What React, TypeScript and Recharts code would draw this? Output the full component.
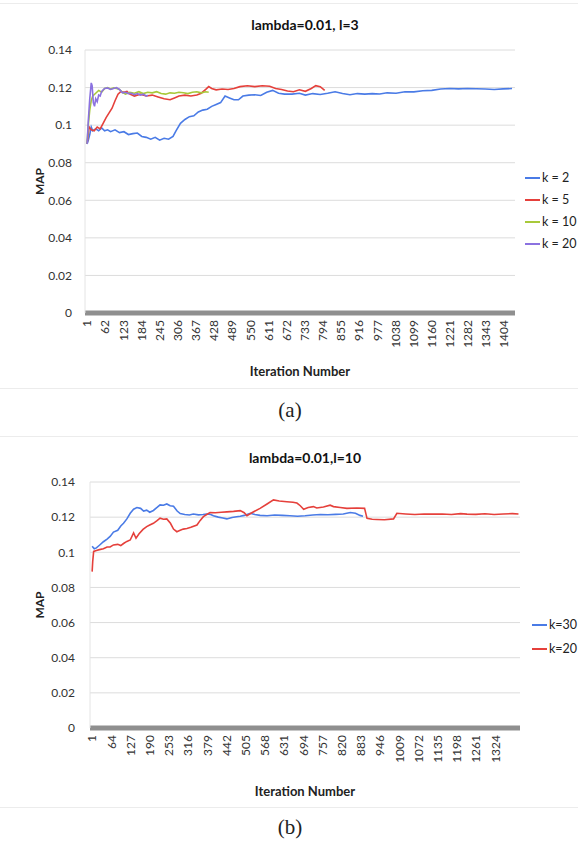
import { LineChart, Line, XAxis, YAxis, CartesianGrid, Label } from 'recharts';

const FONT = 'Lato, "Open Sans", sans-serif';

const yTicks = [0, 0.02, 0.04, 0.06, 0.08, 0.1, 0.12, 0.14];
const topTicks = [1, 62, 123, 184, 245, 306, 367, 428, 489, 550, 611, 672, 733, 794, 855, 916, 977, 1038, 1099, 1160, 1221, 1282, 1343, 1404];
const bottomTicks = [1, 64, 127, 190, 253, 316, 379, 442, 505, 568, 631, 694, 757, 820, 883, 946, 1009, 1072, 1135, 1198, 1261, 1324];

// (a) lambda=0.01, l=3
const k2Iter = [1, 5, 10, 15, 20, 30, 40, 50, 60, 70, 80, 95, 110, 125, 140, 155, 170, 185, 200, 215, 230, 245, 260, 275, 290, 300, 315, 330, 345, 360, 375, 390, 405, 420, 435, 450, 465, 480, 495, 510, 525, 545, 565, 585, 605, 625, 645, 665, 690, 715, 735, 760, 785, 810, 835, 860, 885, 910, 935, 960, 985, 1010, 1040, 1070, 1100, 1130, 1160, 1190, 1220, 1250, 1280, 1310, 1340, 1370, 1400, 1430];
const k2Map = [0.09, 0.092, 0.095, 0.099, 0.097, 0.098, 0.097, 0.0985, 0.097, 0.0975, 0.0965, 0.0975, 0.096, 0.0965, 0.095, 0.0955, 0.0958, 0.094, 0.0935, 0.0925, 0.0935, 0.092, 0.093, 0.0925, 0.094, 0.097, 0.101, 0.103, 0.1045, 0.105, 0.107, 0.108, 0.1085, 0.11, 0.111, 0.112, 0.1155, 0.1145, 0.1135, 0.1135, 0.1155, 0.116, 0.1162, 0.1158, 0.1175, 0.1185, 0.117, 0.1165, 0.1165, 0.117, 0.116, 0.1168, 0.1163, 0.117, 0.1178, 0.1168, 0.1162, 0.1168, 0.1165, 0.1168, 0.1166, 0.1172, 0.117, 0.1178, 0.1177, 0.1183, 0.1185, 0.1192, 0.1195, 0.1193, 0.1195, 0.1194, 0.1192, 0.119, 0.1193, 0.1195];

const k5Iter = [1, 4, 8, 15, 25, 35, 45, 55, 65, 75, 85, 95, 105, 115, 125, 135, 145, 160, 180, 200, 220, 240, 260, 280, 295, 310, 330, 350, 370, 385, 400, 410, 420, 435, 455, 475, 495, 515, 540, 565, 590, 615, 635, 655, 675, 695, 715, 735, 755, 770, 785, 800];
const k5Map = [0.09, 0.094, 0.099, 0.0975, 0.097, 0.099, 0.098, 0.101, 0.104, 0.1065, 0.109, 0.113, 0.1165, 0.118, 0.1175, 0.118, 0.1165, 0.1155, 0.1165, 0.1155, 0.116, 0.115, 0.114, 0.1135, 0.1145, 0.1155, 0.116, 0.1155, 0.116, 0.117, 0.119, 0.1205, 0.1195, 0.1188, 0.1192, 0.119, 0.1195, 0.1205, 0.121, 0.1205, 0.121, 0.1207, 0.1195, 0.119, 0.1182, 0.1178, 0.1188, 0.118, 0.1195, 0.121, 0.1205, 0.1185];

const k10Iter = [1, 5, 10, 15, 20, 30, 40, 50, 60, 70, 80, 90, 100, 110, 120, 130, 145, 160, 175, 190, 205, 220, 235, 250, 265, 280, 295, 310, 325, 340, 355, 370, 385, 400, 410];
const k10Map = [0.09, 0.1, 0.108, 0.113, 0.1155, 0.117, 0.1185, 0.1175, 0.1195, 0.12, 0.1192, 0.1198, 0.1195, 0.119, 0.1175, 0.1165, 0.1175, 0.117, 0.1178, 0.1168, 0.1175, 0.1172, 0.1178, 0.1168, 0.1165, 0.1172, 0.117, 0.1175, 0.1172, 0.1168, 0.1175, 0.1178, 0.1172, 0.1178, 0.1175];

const k20Iter = [1, 5, 10, 15, 18, 22, 26, 30, 35, 40, 45, 50, 60, 70, 80, 90, 100, 110, 120, 130, 140, 150, 160, 170, 180, 190, 200, 205];
const k20Map = [0.09, 0.102, 0.114, 0.1225, 0.121, 0.112, 0.11, 0.114, 0.1125, 0.116, 0.1155, 0.118, 0.1195, 0.1198, 0.119, 0.1195, 0.12, 0.119, 0.1172, 0.1175, 0.1168, 0.117, 0.1162, 0.1168, 0.116, 0.1165, 0.1155, 0.116];

// (b) lambda=0.01, l=10
const k30Iter = [1, 8, 15, 25, 38, 50, 60, 71, 85, 95, 104, 115, 126, 137, 148, 160, 170, 180, 190, 202, 214, 224, 235, 246, 257, 268, 280, 290, 305, 320, 333, 350, 365, 377, 390, 399, 415, 430, 443, 460, 475, 487, 500, 520, 535, 552, 575, 600, 625, 650, 675, 700, 725, 750, 775, 800, 825, 848, 865, 880, 890];
const k30Map = [0.1035, 0.102, 0.1025, 0.104, 0.106, 0.1075, 0.109, 0.1115, 0.1125, 0.115, 0.1165, 0.119, 0.1222, 0.1245, 0.1255, 0.125, 0.1235, 0.124, 0.1228, 0.1238, 0.1255, 0.127, 0.1268, 0.1275, 0.1265, 0.1262, 0.1235, 0.122, 0.1215, 0.1212, 0.1218, 0.1213, 0.1215, 0.1218, 0.1215, 0.1208, 0.12, 0.1195, 0.119, 0.1198, 0.1202, 0.1205, 0.121, 0.1222, 0.1215, 0.121, 0.1208, 0.1212, 0.121, 0.1208, 0.1205, 0.1208, 0.1212, 0.1215, 0.1214, 0.1216, 0.1218, 0.1226, 0.1222, 0.121, 0.1205];

const kb20Iter = [1, 3, 6, 15, 25, 38, 50, 60, 71, 85, 95, 104, 115, 126, 137, 145, 155, 168, 180, 190, 202, 214, 224, 235, 246, 258, 268, 279, 290, 300, 312, 325, 345, 355, 366, 377, 388, 405, 425, 443, 465, 487, 500, 509, 525, 552, 575, 596, 615, 640, 660, 673, 684, 695, 710, 727, 738, 760, 782, 793, 815, 837, 870, 895, 903, 920, 935, 960, 990, 1001, 1030, 1060, 1090, 1120, 1150, 1180, 1210, 1231, 1260, 1290, 1320, 1350, 1380, 1400];
const kb20Map = [0.089, 0.095, 0.1005, 0.101, 0.1015, 0.102, 0.103, 0.103, 0.1042, 0.1045, 0.1038, 0.105, 0.1062, 0.107, 0.111, 0.108, 0.1105, 0.113, 0.1146, 0.1155, 0.1165, 0.118, 0.1194, 0.1188, 0.119, 0.1165, 0.1132, 0.1117, 0.1125, 0.1132, 0.1135, 0.1142, 0.1155, 0.118, 0.1203, 0.1215, 0.1226, 0.1225, 0.1228, 0.123, 0.1233, 0.1237, 0.1225, 0.1208, 0.1225, 0.125, 0.1275, 0.1298, 0.1292, 0.1288, 0.1285, 0.128, 0.1265, 0.1245, 0.1255, 0.126, 0.1252, 0.1258, 0.1268, 0.126, 0.1255, 0.125, 0.1252, 0.125, 0.1193, 0.1188, 0.1187, 0.1185, 0.119, 0.1222, 0.1218, 0.1215, 0.1218, 0.1217, 0.1218, 0.1215, 0.122, 0.1217, 0.1216, 0.1219, 0.1215, 0.1218, 0.122, 0.1218];

const zip = (its: number[], vals: number[]) => its.map((it, i) => ({ it, map: vals[i] }));

const topSeries = [
  { name: 'k = 2', color: '#4a7be6', data: zip(k2Iter, k2Map) },
  { name: 'k = 5', color: '#e5403b', data: zip(k5Iter, k5Map) },
  { name: 'k = 10', color: '#a8c93a', data: zip(k10Iter, k10Map) },
  { name: 'k = 20', color: '#8b72e0', data: zip(k20Iter, k20Map) },
];

const bottomSeries = [
  { name: 'k=30', color: '#4a7be6', data: zip(k30Iter, k30Map) },
  { name: 'k=20', color: '#e5403b', data: zip(kb20Iter, kb20Map) },
];

function IterTick({ x, y, payload }: any) {
  return (
    <g transform={`translate(${x},${y})`}>
      <text transform="rotate(-90)" textAnchor="end" dy="0.35em" fontSize={12} fill="#333" fontFamily={FONT}>
        {payload.value}
      </text>
    </g>
  );
}

function Panel(p: any) {
  return (
    <div style={{ position: 'absolute', left: 0, top: p.top, width: 578, height: p.height }}>
      <div style={{ ...styles.title, top: p.titleTop }}>{p.title}</div>
      <LineChart width={578} height={p.height} margin={p.margin}>
        <CartesianGrid stroke="#dcdcdc" vertical={false} />
        <XAxis
          type="number" dataKey="it" domain={p.domain} ticks={p.ticks} interval={0}
          tick={(t: any) => <IterTick {...t} />} tickLine={false} tickSize={0} tickMargin={7}
          axisLine={{ stroke: '#8f8f8f', strokeWidth: 5 }} height={p.xHeight}
        >
          <Label value="Iteration Number" position="insideBottom" offset={24}
            style={{ fontWeight: 700, fontSize: 13, fill: '#222', fontFamily: FONT }} />
        </XAxis>
        <YAxis
          domain={[0, 0.14]} ticks={yTicks} width={p.yWidth} tickLine={false} tickSize={0} tickMargin={p.yMargin}
          axisLine={{ stroke: '#e4e4e4' }} tick={{ fontSize: 12, fill: '#333', fontFamily: FONT }}
          tickFormatter={(v: number) => String(v)}
        >
          <Label value="MAP" angle={-90} position="insideLeft" offset={5}
            style={{ fontWeight: 700, fontSize: 12, fill: '#222', fontFamily: FONT, textAnchor: 'middle' }} />
        </YAxis>
        {p.series.map((s: any) => (
          <Line key={s.name} data={s.data} dataKey="map" name={s.name} stroke={s.color} strokeWidth={1.6}
            dot={false} type="linear" isAnimationActive={false} />
        ))}
      </LineChart>
      {p.series.map((s: any, i: number) => (
        <div key={s.name} style={{ ...styles.legendItem, left: p.legendLeft, top: p.legendTop + i * p.legendGap - 8 }}>
          <span style={{ display: 'inline-block', width: 15, height: 2, background: s.color, marginRight: 2 }} />
          {s.name}
        </div>
      ))}
    </div>
  );
}

export default function App() {
  return (
    <div style={styles.page}>
      <div style={{ ...styles.rule, top: 3 }} />
      <div style={{ ...styles.rule, top: 388 }} />
      <Panel
        top={0} height={400} margin={{ top: 50, right: 63, bottom: 0, left: 35 }} yWidth={50} yMargin={13}
        xHeight={87} domain={[-6, 1440]} ticks={topTicks} series={topSeries}
        title="lambda=0.01, l=3" titleTop={16} legendLeft={525} legendTop={178} legendGap={22}
      />
      <div style={{ ...styles.caption, top: 398 }}>(a)</div>
      <div style={{ ...styles.rule, top: 436 }} />
      <div style={{ ...styles.rule, top: 807 }} />
      <Panel
        top={440} height={380} margin={{ top: 42, right: 58, bottom: 0, left: 35 }} yWidth={55} yMargin={15}
        xHeight={92} domain={[-6, 1405]} ticks={bottomTicks} series={bottomSeries}
        title="lambda=0.01,l=10" titleTop={9} legendLeft={532} legendTop={185} legendGap={24}
      />
      <div style={{ ...styles.caption, top: 815 }}>(b)</div>
    </div>
  );
}

const styles: Record<string, React.CSSProperties> = {
  page: {
    position: 'absolute', left: 0, top: 0, width: 578, height: 853, background: '#fff',
    overflow: 'hidden', fontFamily: FONT,
  },
  title: {
    position: 'absolute', left: 0, width: 610, textAlign: 'center', fontSize: 14,
    fontWeight: 700, color: '#111', zIndex: 1,
  },
  legendItem: {
    position: 'absolute', display: 'flex', alignItems: 'center', fontSize: 12.5, color: '#222',
    whiteSpace: 'nowrap', lineHeight: '16px',
  },
  caption: {
    position: 'absolute', left: 0, width: 580, textAlign: 'center', fontSize: 21,
    fontFamily: '"Liberation Serif", "DejaVu Serif", serif', color: '#222',
  },
  rule: { position: 'absolute', left: 0, width: 578, height: 1, background: '#ececec' },
};
